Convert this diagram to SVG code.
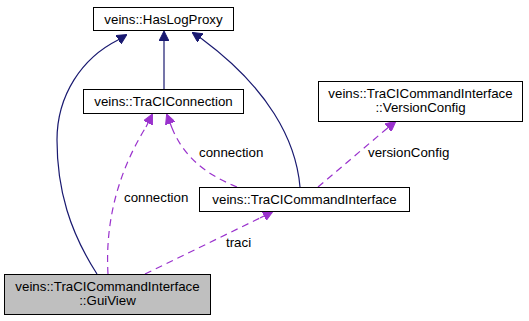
<svg xmlns="http://www.w3.org/2000/svg" width="529" height="321" viewBox="0 0 529 321">
  <style>
    .box { fill: #ffffff; stroke: #000000; stroke-width: 1; }
    .sel { fill: #bfbfbf; stroke: #000000; stroke-width: 1; }
    text { font-family: "Liberation Sans", Arial, sans-serif; font-size: 13.3px; fill: #000000; }
    .c { text-anchor: middle; }
    .inh { fill: none; stroke: #191970; stroke-width: 1.2; }
    .use { fill: none; stroke: #9a32cd; stroke-width: 1.2; stroke-dasharray: 7,5; }
  </style>
  <defs>
    <marker id="arrNavy" viewBox="0 0 10 10" refX="9" refY="5" markerWidth="10" markerHeight="10" markerUnits="userSpaceOnUse" orient="auto">
      <path d="M0,0 L10,5 L0,10 z" fill="#191970" stroke="#191970"/>
    </marker>
    <marker id="arrPurple" viewBox="0 0 10 10" refX="9" refY="5" markerWidth="10" markerHeight="10" markerUnits="userSpaceOnUse" orient="auto">
      <path d="M0,0 L10,5 L0,10 z" fill="#9a32cd" stroke="#9a32cd"/>
    </marker>
  </defs>

  <g id="edges">
    <!-- inheritance -->
    <path class="inh" d="M97,274 C70,232 57,190 57,140 C57,95 82,58 118,40" />
    <path class="inh" d="M118,40 L126,35" marker-end="url(#arrNavy)" />
    <path class="inh" d="M164,89 L164,32" marker-end="url(#arrNavy)" />
    <path class="inh" d="M300,187 C296,140 268,88 202,39" />
    <path class="inh" d="M202,39 L193,33" marker-end="url(#arrNavy)" />
    <!-- usage -->
    <path class="use" d="M108,274 C105,222 118,172 146,127" />
    <path class="use" d="M146,127 L152,115" marker-end="url(#arrPurple)" />
    <path class="use" d="M237,187 C210,176 185,160 172,128" />
    <path class="use" d="M172,128 L167,115" marker-end="url(#arrPurple)" />
    <path class="use" d="M318,187 L384,131" />
    <path class="use" d="M384,131 L395,122" marker-end="url(#arrPurple)" />
    <path class="use" d="M145,274 L260,218" />
    <path class="use" d="M260,218 L272,212" marker-end="url(#arrPurple)" />
    <text x="124" y="202">connection</text>
    <text x="199" y="157">connection</text>
    <text x="368" y="157">versionConfig</text>
    <text x="226" y="247">traci</text>
  </g>

  <g id="node-haslogproxy">
    <rect class="box" x="93.5" y="7.5" width="140" height="23" />
    <text class="c" x="163.5" y="23.5">veins::HasLogProxy</text>
  </g>

  <g id="node-tracicommection">
    <rect class="box" x="83.5" y="89.5" width="160" height="24" />
    <text class="c" x="163.5" y="106">veins::TraCIConnection</text>
  </g>

  <g id="node-versionconfig">
    <rect class="box" x="318.5" y="81.5" width="204" height="40" />
    <text class="c" x="420.5" y="97.5">veins::TraCICommandInterface</text>
    <text class="c" x="420.5" y="112">::VersionConfig</text>
  </g>

  <g id="node-commandinterface">
    <rect class="box" x="199.5" y="187.5" width="210" height="24" />
    <text class="c" x="304.5" y="204">veins::TraCICommandInterface</text>
  </g>

  <g id="node-guiview">
    <rect class="sel" x="4.5" y="274.5" width="206" height="40" />
    <text class="c" x="107.5" y="290.5">veins::TraCICommandInterface</text>
    <text class="c" x="107.5" y="305">::GuiView</text>
  </g>
</svg>
